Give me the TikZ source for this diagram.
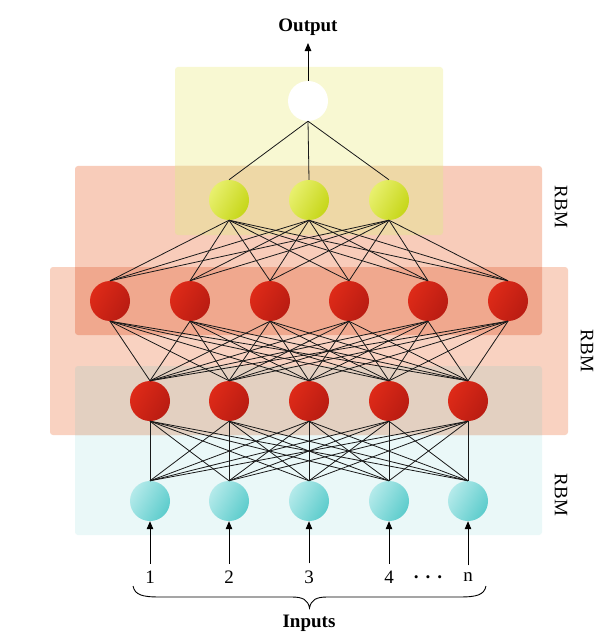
\documentclass[tikz,border=0pt]{standalone}
\usepackage{fontspec}
\setmainfont{Liberation Serif}
\usetikzlibrary{arrows.meta}
\definecolor{yellowbox}{RGB}{248,248,210}
\definecolor{salmonA}{RGB}{248,204,186}
\definecolor{salmonB}{RGB}{249,210,193}
\definecolor{cyanbox}{RGB}{234,248,248}
\definecolor{tanbox}{RGB}{238,216,166}
\definecolor{dblbox}{RGB}{240,168,142}
\definecolor{beigebox}{RGB}{227,208,193}
\definecolor{redL}{RGB}{222,42,24}
\definecolor{redD}{RGB}{185,28,18}
\definecolor{yelL}{RGB}{232,240,110}
\definecolor{yelD}{RGB}{198,214,24}
\definecolor{cyaL}{RGB}{180,234,234}
\definecolor{cyaD}{RGB}{92,204,204}
\begin{document}
\begin{tikzpicture}[x=1pt,y=-1pt,
  neuron/.style={circle,minimum size=40pt,inner sep=0pt},
  rednode/.style={neuron,top color=redL,bottom color=redD,shading angle=60},
  yelnode/.style={neuron,top color=yelL,bottom color=yelD,shading angle=60},
  cyanode/.style={neuron,top color=cyaL,bottom color=cyaD,shading angle=60},
  whitenode/.style={neuron,fill=white},
  link/.style={line width=0.8pt,black!90},
  inarrow/.style={line width=0.9pt,-{Triangle[length=8pt,width=6.5pt]}},
  lbl/.style={font=\fontsize{19}{22}\selectfont,inner sep=2pt},
  blbl/.style={font=\fontsize{19}{22}\selectfont\bfseries,inner sep=2pt},
  rbm/.style={font=\fontsize{19}{22}\selectfont,rotate=-90,inner sep=0pt},
  boxr/.style={rounded corners=3pt}
]
\useasboundingbox[fill=white] (0,0) rectangle (612,644);
% boxes
\fill[cyanbox,boxr] (75,366) rectangle (542,535);
\fill[yellowbox,boxr] (175,67) rectangle (443,235);
\fill[salmonA,boxr] (75,166) rectangle (542,335);
\fill[salmonB,boxr] (50,267) rectangle (568,435);
\begin{scope}
  \clip[boxr] (175,67) rectangle (443,235);
  \fill[tanbox,boxr] (75,166) rectangle (542,335);
\end{scope}
\begin{scope}
  \clip[boxr] (75,166) rectangle (542,335);
  \fill[dblbox,boxr] (50,267) rectangle (568,435);
\end{scope}
\begin{scope}
  \clip[boxr] (50,267) rectangle (568,435);
  \fill[beigebox,boxr] (75,366) rectangle (542,535);
\end{scope}
% nodes
\node[whitenode] (w) at (308,101) {};
\foreach \x [count=\i] in {229,309,389} \node[yelnode] (y\i) at (\x,200) {};
\foreach \x [count=\i] in {110,190,270,349,428,508} \node[rednode] (a\i) at (\x,301) {};
\foreach \x [count=\i] in {150,229,309,389,468} \node[rednode] (b\i) at (\x,401) {};
\foreach \x [count=\i] in {150,229,309,389,468} \node[cyanode] (c\i) at (\x,501) {};
% links
\foreach \i in {1,2,3} \draw[link] (w.south) -- (y\i.north);
\foreach \i in {1,2,3} \foreach \j in {1,...,6} \draw[link] (y\i.south) -- (a\j.north);
\foreach \i in {1,...,6} \foreach \j in {1,...,5} \draw[link] (a\i.south) -- (b\j.north);
\foreach \i in {1,...,5} \foreach \j in {1,...,5} \draw[link] (b\i.south) -- (c\j.north);
% output
\node[blbl] (out) at (308,27.5) {Output};
\draw[inarrow,shorten >=5pt] (w.north) -- (out.south);
% inputs
\foreach \x/\t [count=\i] in {150/1,229/2,309/3,389/4,468/n} {
  \node[lbl] (l\i) at (\x,577) {\t};
  \draw[inarrow,shorten <=5pt] (l\i.north) -- (c\i.south);
}
\node[lbl,font=\fontsize{19}{22}\selectfont\bfseries] (dots) at (428,580) {·\hspace{5.5pt}·\hspace{5.5pt}·};
% brace
\coordinate (bl) at (133,586);
\coordinate (br) at (486,586);
\coordinate (bm) at (309.5,608);
\draw[line width=0.9pt] (bl) .. controls (135,595) and (142,597) .. (160,597)
  -- (292,597) .. controls (303,597) and (308,600) .. (bm)
  .. controls (311,600) and (316,597) .. (327,597) -- (459,597)
  .. controls (477,597) and (484,595) .. (br);
\node[blbl] (inp) at (309,623) {Inputs};
% RBM labels
\node[rbm] (r1) at (561,207) {RBM};
\node[rbm] (r2) at (587,351) {RBM};
\node[rbm] (r3) at (561,495) {RBM};
\end{tikzpicture}
\end{document}
